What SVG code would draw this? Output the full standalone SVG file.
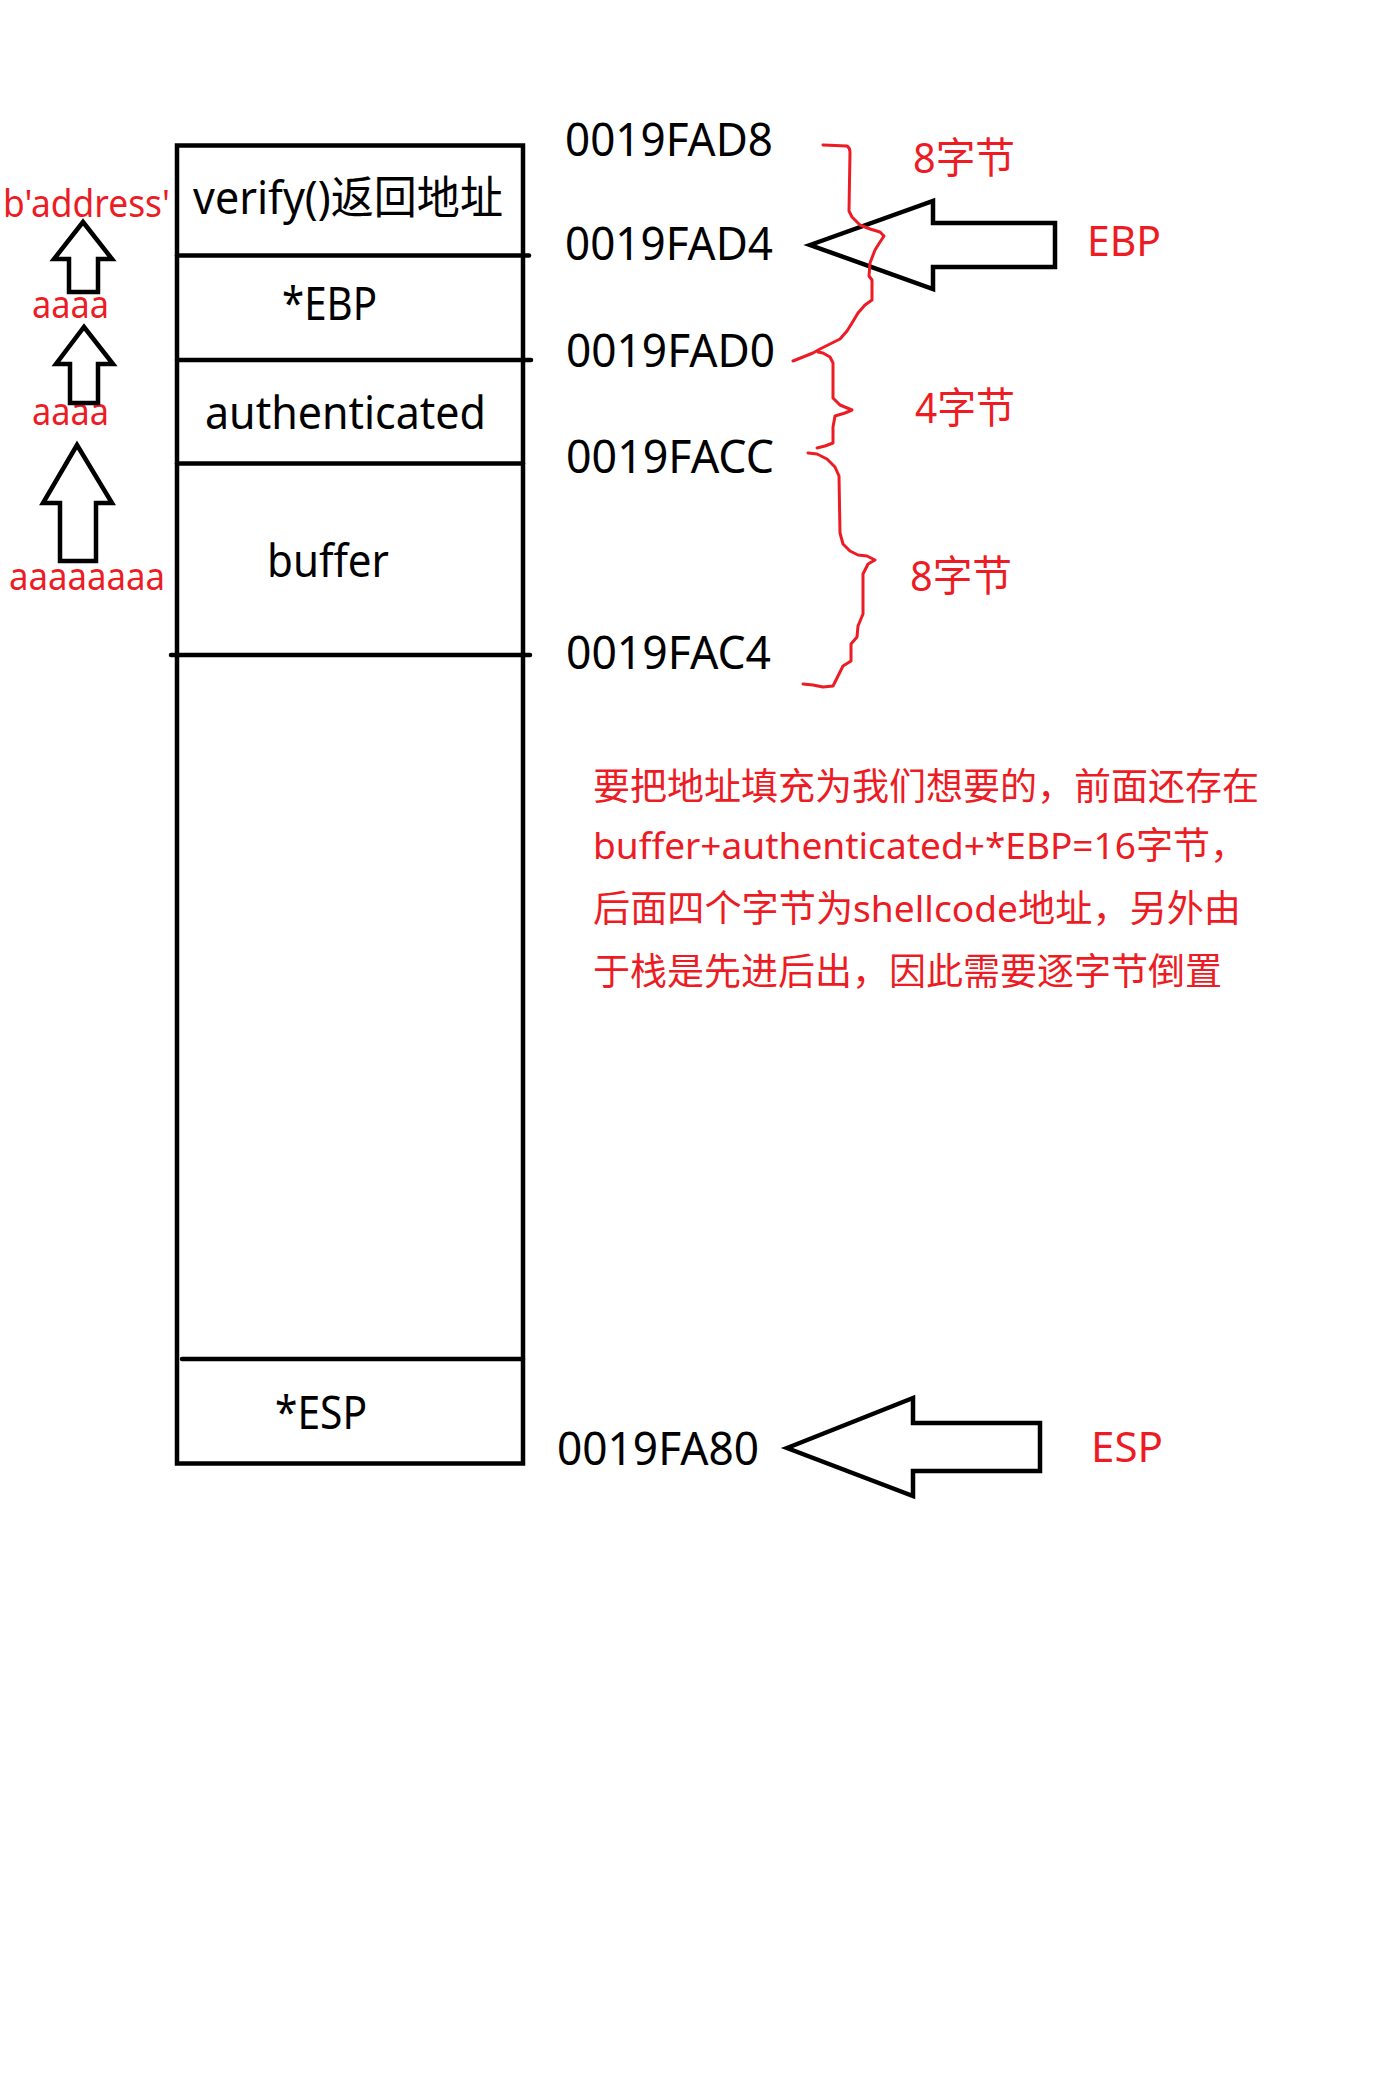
<svg xmlns="http://www.w3.org/2000/svg" width="1400" height="2088" viewBox="0 0 1400 2088">
<style>
text{font-family:"Noto Sans","Noto Sans CJK SC",sans-serif}
.k{fill:#000}
.r{fill:#ED1C24}
.box{fill:none;stroke:#000;stroke-width:4.5}
.div{stroke:#000;stroke-width:4.5;stroke-linecap:round}
.arw{fill:none;stroke:#000;stroke-width:4.5;stroke-linejoin:miter}
.brace{fill:none;stroke:#ED1C24;stroke-width:3;stroke-linejoin:round;stroke-linecap:round}
.cell{font-size:45px}
.addr{font-size:45px}
.lbl{font-size:42px}
.para{font-size:37px}
.pay{font-size:38px}
</style>
<rect width="1400" height="2088" fill="#fff"/>
<g id="stack">
  <rect class="box" x="177" y="145.5" width="346" height="1318"/>
  <line class="div" x1="177" y1="255.5" x2="529" y2="255.5"/>
  <line class="div" x1="177" y1="360" x2="531" y2="360"/>
  <line class="div" x1="177" y1="463.5" x2="523" y2="463.5"/>
  <line class="div" x1="171" y1="655" x2="530" y2="655"/>
  <line class="div" x1="182" y1="1359" x2="523" y2="1359"/>
</g>
<g id="cell-ret"><text class="k cell" x="193" y="214" textLength="310" lengthAdjust="spacingAndGlyphs">verify()返回地址</text></g>
<g id="cell-ebp"><text class="k cell" x="282" y="320" textLength="95" lengthAdjust="spacingAndGlyphs">*EBP</text></g>
<g id="cell-auth"><text class="k cell" x="205" y="429" textLength="281" lengthAdjust="spacingAndGlyphs">authenticated</text></g>
<g id="cell-buffer"><text class="k cell" x="267" y="577" textLength="122" lengthAdjust="spacingAndGlyphs">buffer</text></g>
<g id="cell-esp"><text class="k cell" x="275" y="1429" textLength="92" lengthAdjust="spacingAndGlyphs">*ESP</text></g>
<g id="addr-fad8"><text class="k addr" x="565" y="156" textLength="208" lengthAdjust="spacingAndGlyphs">0019FAD8</text></g>
<g id="addr-fad4"><text class="k addr" x="565" y="260" textLength="208" lengthAdjust="spacingAndGlyphs">0019FAD4</text></g>
<g id="addr-fad0"><text class="k addr" x="566" y="367" textLength="209" lengthAdjust="spacingAndGlyphs">0019FAD0</text></g>
<g id="addr-facc"><text class="k addr" x="566" y="473" textLength="208" lengthAdjust="spacingAndGlyphs">0019FACC</text></g>
<g id="addr-fac4"><text class="k addr" x="566" y="669" textLength="205" lengthAdjust="spacingAndGlyphs">0019FAC4</text></g>
<g id="addr-fa80"><text class="k addr" x="557" y="1465" textLength="202" lengthAdjust="spacingAndGlyphs">0019FA80</text></g>
<g id="lbl-ebp"><text class="r lbl" x="1087" y="256" textLength="74" lengthAdjust="spacingAndGlyphs">EBP</text></g>
<g id="lbl-esp"><text class="r lbl" x="1091" y="1462" textLength="72" lengthAdjust="spacingAndGlyphs">ESP</text></g>
<g id="lbl-8a"><text class="r lbl" x="913" y="173" textLength="102" lengthAdjust="spacingAndGlyphs">8字节</text></g>
<g id="lbl-4"><text class="r lbl" x="915" y="423" textLength="100" lengthAdjust="spacingAndGlyphs">4字节</text></g>
<g id="lbl-8b"><text class="r lbl" x="910" y="591" textLength="102" lengthAdjust="spacingAndGlyphs">8字节</text></g>
<g id="pay-addr"><text class="r pay" x="3" y="217" textLength="167" lengthAdjust="spacingAndGlyphs">b'address'</text></g>
<g id="pay-a1"><text class="r pay" x="32" y="318" textLength="77" lengthAdjust="spacingAndGlyphs">aaaa</text></g>
<g id="pay-a2"><text class="r pay" x="32" y="425" textLength="77" lengthAdjust="spacingAndGlyphs">aaaa</text></g>
<g id="pay-a3"><text class="r pay" x="9" y="590" textLength="156" lengthAdjust="spacingAndGlyphs">aaaaaaaa</text></g>
<g id="note">
  <text class="r para" x="593" y="800" textLength="666" lengthAdjust="spacingAndGlyphs">要把地址填充为我们想要的，前面还存在</text>
  <text class="r para" x="593" y="859" textLength="654" lengthAdjust="spacingAndGlyphs">buffer+authenticated+*EBP=16字节，</text>
  <text class="r para" x="593" y="922" textLength="648" lengthAdjust="spacingAndGlyphs">后面四个字节为shellcode地址，另外由</text>
  <text class="r para" x="593" y="985" textLength="629" lengthAdjust="spacingAndGlyphs">于栈是先进后出，因此需要逐字节倒置</text>
</g>
<g id="connectors">
  <polygon class="arw" points="810,245 933,201 933,223 1055,223 1055,267 933,267 933,289"/>
  <polygon class="arw" points="787,1448 913,1398 913,1423 1040,1423 1040,1471 913,1471 913,1496"/>
  <polygon class="arw" points="83,222 112,259 98,259 98,292 69,292 69,259 54,259"/>
  <polygon class="arw" points="84,327 113,364 98,364 98,403 70,403 70,364 56,364"/>
  <polygon class="arw" points="77,445 112,503 96,503 96,561 60,561 60,503 43,503"/>
  <path class="brace" d="M823,145 L847,146 Q850,148 850,152 L849,211 L852,217 L860,225 L870,229 L880,232 L884,236 L880,242 L875,250 L870,263 L869,276 L872,280 L872,300 L865,305 L858,313 L852,323 L847,331 L840,339 L830,344 L820,349 L813,353 L803,357 L793,361"/>
  <path class="brace" d="M818,352 L823,353 L830,357 L833,363 L833,398 L840,405 L852,410 L845,413 L835,416 L833,427 L833,443 L825,446 L817,448"/>
  <path class="brace" d="M808,453 L817,454 L827,459 L835,467 L839,476 L840,533 L843,544 L850,551 L858,555 L867,556 L875,560 L868,564 L863,574 L863,614 L858,626 L857,637 L851,644 L851,661 L843,666 L838,676 L833,686 L823,687 L813,685 L803,684"/>
</g>
</svg>
